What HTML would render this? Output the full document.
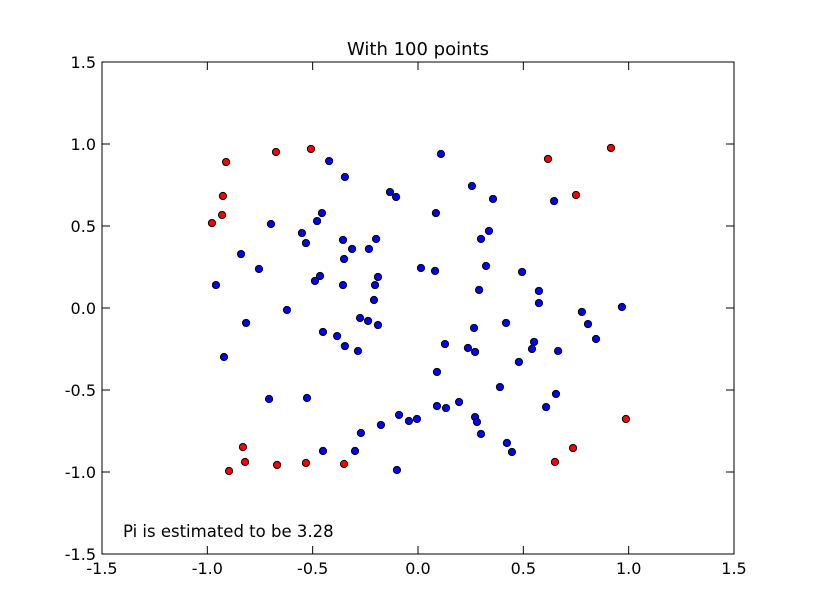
<!DOCTYPE html>
<html><head><meta charset="utf-8"><style>
html,body{margin:0;padding:0;background:#fff;}
svg{display:block;font-family:"DejaVu Sans","Liberation Sans",sans-serif;}
</style></head><body>
<svg id="chart" width="815" height="615" viewBox="0 0 815 615" xmlns="http://www.w3.org/2000/svg">
<rect width="815" height="615" fill="#fff"/>
<text x="418" y="55" font-size="18" text-anchor="middle">With 100 points</text>
<g id="marks"></g>
<g id="axes"></g>
<rect x="102" y="62" width="632" height="492" fill="none" stroke="#000" stroke-width="1"/>
<text x="123" y="537" font-size="16.5">Pi is estimated to be 3.28</text>
</svg>
<script>
const xTicks = [-1.5,-1.0,-0.5,0.0,0.5,1.0,1.5];
const yTicks = [-1.5,-1.0,-0.5,0.0,0.5,1.0,1.5];
const tickLabels = ["-1.5","-1.0","-0.5","0.0","0.5","1.0","1.5"];
const redX = [-0.911,-0.674,-0.508,-0.926,-0.930,-0.978,0.916,0.617,0.750,0.987,-0.831,-0.821,-0.897,-0.669,-0.532,-0.351,0.736,0.650];
const redY = [0.890,0.951,0.970,0.683,0.567,0.518,0.976,0.909,0.689,-0.677,-0.848,-0.939,-0.994,-0.957,-0.945,-0.951,-0.854,-0.939];
const blueX = [-0.422,0.109,-0.347,-0.133,-0.104,0.256,0.356,0.646,-0.456,-0.479,0.085,-0.698,-0.551,-0.532,-0.356,-0.199,-0.313,-0.233,0.337,0.299,-0.840,-0.351,-0.755,0.014,0.081,0.323,0.494,-0.959,-0.465,-0.489,-0.356,-0.190,-0.204,0.290,0.574,-0.209,0.574,-0.622,0.778,0.968,-0.816,-0.275,-0.237,-0.190,0.418,0.266,0.807,-0.451,-0.384,-0.347,-0.285,0.845,0.128,0.237,0.271,0.551,0.541,0.665,-0.921,0.479,0.090,0.389,0.655,-0.707,-0.527,0.090,0.133,0.195,0.608,-0.090,-0.043,-0.005,0.271,0.280,-0.176,-0.271,0.299,0.422,0.446,-0.451,-0.299,-0.100];
const blueY = [0.896,0.939,0.799,0.707,0.677,0.744,0.665,0.652,0.579,0.530,0.579,0.512,0.457,0.396,0.415,0.421,0.360,0.360,0.470,0.421,0.329,0.299,0.238,0.244,0.226,0.256,0.220,0.140,0.195,0.165,0.140,0.189,0.140,0.110,0.104,0.049,0.030,-0.012,-0.024,0.006,-0.091,-0.061,-0.079,-0.104,-0.091,-0.122,-0.098,-0.146,-0.171,-0.232,-0.262,-0.189,-0.220,-0.244,-0.268,-0.207,-0.250,-0.262,-0.299,-0.329,-0.390,-0.482,-0.524,-0.555,-0.549,-0.598,-0.610,-0.573,-0.604,-0.652,-0.689,-0.677,-0.665,-0.695,-0.713,-0.762,-0.768,-0.823,-0.878,-0.872,-0.872,-0.988];

const L=102,R=734,T=62,B=554;
const sx = v => L + (v + 1.5) / 3 * (R - L);
const sy = v => B - (v + 1.5) / 3 * (B - T);
const NS = "http://www.w3.org/2000/svg";
const marks = document.getElementById('marks');
const axes = document.getElementById('axes');
function dot(x, y, fill, name) {
  const c = document.createElementNS(NS, 'circle');
  c.setAttribute('cx', sx(x)); c.setAttribute('cy', sy(y)); c.setAttribute('r', 3.6);
  c.setAttribute('fill', fill); c.setAttribute('stroke', '#000'); c.setAttribute('stroke-width', 1);
  
  
  marks.appendChild(c);
}
blueX.forEach((x, i) => dot(x, blueY[i], '#0000ff', 'point-inside'));
redX.forEach((x, i) => dot(x, redY[i], '#ff0000', 'point-outside'));
function line(x1, y1, x2, y2) {
  const l = document.createElementNS(NS, 'line');
  l.setAttribute('x1', x1); l.setAttribute('y1', y1); l.setAttribute('x2', x2); l.setAttribute('y2', y2);
  l.setAttribute('stroke', '#000'); l.setAttribute('stroke-width', 1);
  
  
  axes.appendChild(l);
}
function label(x, y, s, anchor, name) {
  const t = document.createElementNS(NS, 'text');
  t.setAttribute('x', x); t.setAttribute('y', y); t.setAttribute('font-size', 16);
  t.setAttribute('text-anchor', anchor); t.textContent = s;
  
  
  axes.appendChild(t);
}
xTicks.forEach((v, i) => {
  const x = sx(v);
  line(x, B, x, B - 8); line(x, T, x, T + 8);
  label(x, B + 20, tickLabels[i], 'middle', 'x-tick-label');
});
yTicks.forEach((v, i) => {
  const y = sy(v);
  line(L, y, L + 8, y); line(R, y, R - 8, y);
  label(L - 6, y + 6, tickLabels[i], 'end', 'y-tick-label');
});
</script>
</body></html>
